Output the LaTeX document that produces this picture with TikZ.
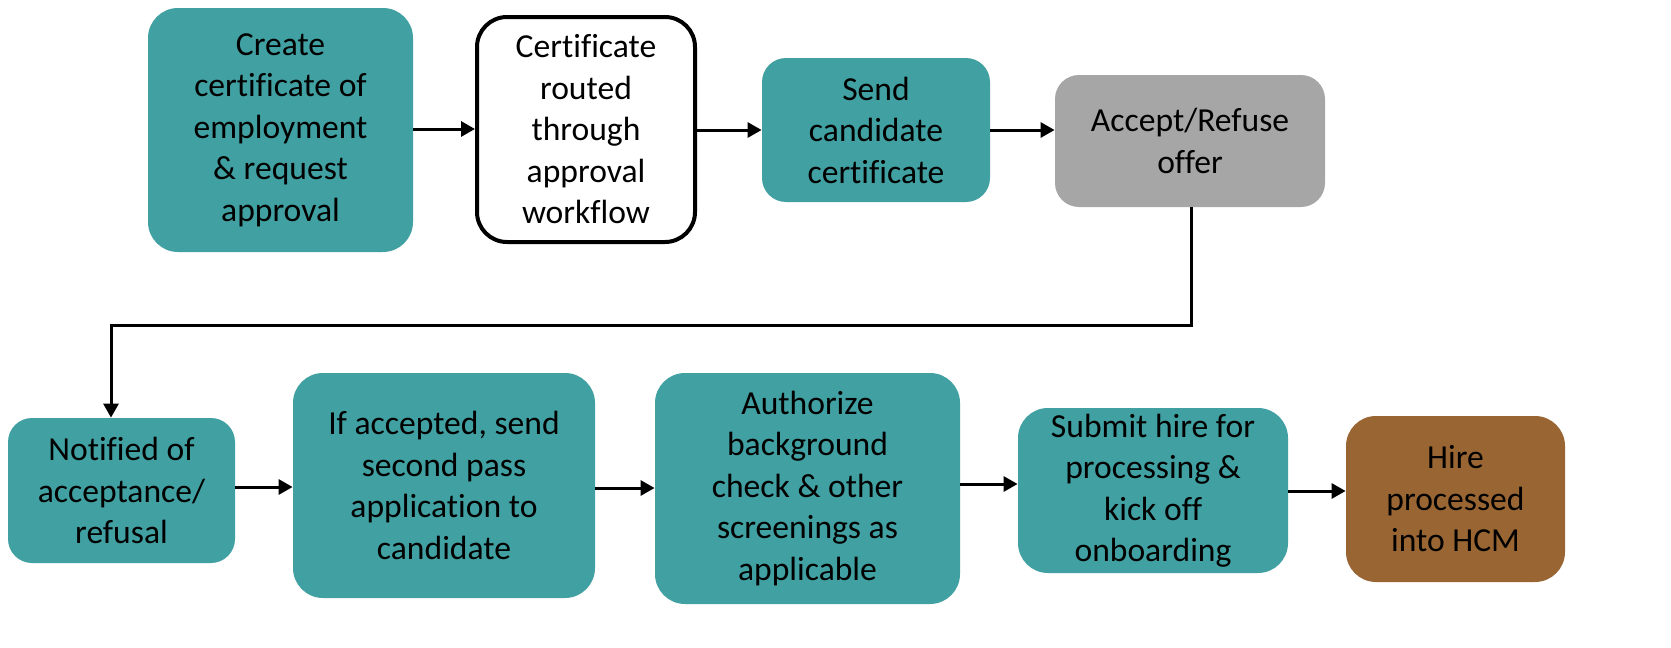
\documentclass[tikz,border=0pt]{standalone}
\usepackage{fontspec}
\setmainfont{Carlito}[Ligatures=CommonOff]
\usetikzlibrary{arrows.meta}
\definecolor{teal1}{HTML}{41A0A2}
\definecolor{gray1}{HTML}{A6A6A6}
\definecolor{brown1}{HTML}{996633}
\begin{document}
\begin{tikzpicture}[x=0.5pt,y=-0.5pt,
  box/.style={rounded corners=15pt,align=center,inner sep=0pt,
    font=\fontsize{16.8pt}{20.75pt}\selectfont,text=black},
  tealbox/.style={box,fill=teal1},
  conn/.style={line width=1.5pt,-{Triangle[length=7pt,width=7.5pt]}}]
\useasboundingbox (0,0) rectangle (1671,648);
\node[tealbox,minimum width=132.5pt,minimum height=122pt] (n1) at (280.5,130)
  {Create\\certificate of\\employment\\\& request\\approval};
\node[box,draw=black,line width=2pt,fill=white,minimum width=109pt,minimum height=112.5pt] (n2) at (586,129.5)
  {Certificate\\routed\\through\\approval\\workflow};
\node[tealbox,rounded corners=12pt,minimum width=114pt,minimum height=72pt] (n3) at (876,130)
  {Send\\candidate\\certificate};
\node[box,fill=gray1,rounded corners=12pt,minimum width=135pt,minimum height=66pt] (n4) at (1190,141)
  {Accept/Refuse\\offer};
\node[tealbox,rounded corners=12pt,minimum width=113.5pt,minimum height=72.5pt] (n5) at (121.5,490.5)
  {Notified of\\acceptance/\\refusal};
\node[tealbox,minimum width=151pt,minimum height=112.5pt] (n6) at (444,485.5)
  {If accepted, send\\second pass\\application to\\candidate};
\node[tealbox,minimum width=152.5pt,minimum height=115.5pt] (n7) at (807.5,488.5)
  {Authorize\\background\\check \& other\\screenings as\\applicable};
\node[tealbox,minimum width=135pt,minimum height=82.5pt] (n8) at (1153,490.5)
  {Submit hire for\\processing \&\\kick off\\onboarding};
\node[box,fill=brown1,minimum width=109.5pt,minimum height=83pt] (n9) at (1455.5,499)
  {Hire\\processed\\into HCM};
\coordinate (c1) at (1191,325);
\coordinate (c2) at (111,325);
\draw[conn] (n1.east |- 0,129) -- (n2.west |- 0,129);
\draw[conn] (n2.east |- 0,130) -- (n3.west |- 0,130);
\draw[conn] (n3.east |- 0,130) -- (n4.west |- 0,130);
\draw[conn] (n4.south -| c1) -- (c1) -- (c2) -- (c2 |- n5.north);
\draw[conn] (n5.east |- 0,487) -- (n6.west |- 0,487);
\draw[conn] (n6.east |- 0,488) -- (n7.west |- 0,488);
\draw[conn] (n7.east |- 0,484) -- (n8.west |- 0,484);
\draw[conn] (n8.east |- 0,491) -- (n9.west |- 0,491);
\end{tikzpicture}
\end{document}
